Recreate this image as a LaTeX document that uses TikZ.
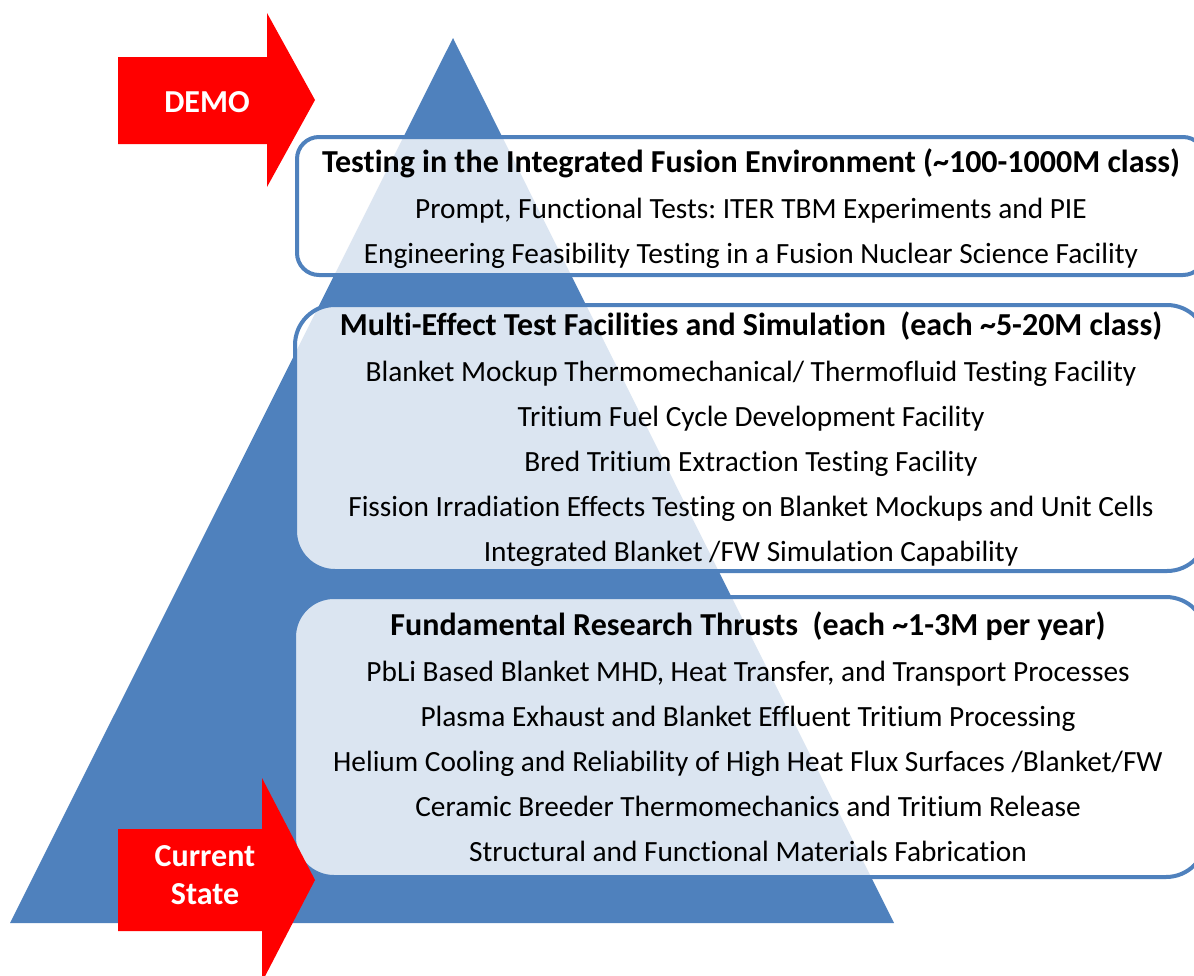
\documentclass[tikz,border=0pt]{standalone}
\usepackage{fontspec}
\setmainfont{Carlito}[Ligatures=NoCommon]
\frenchspacing
\begin{document}
\begin{tikzpicture}[x=1pt,y=-1pt,
  stage/.style={draw=pyrblue, line width=4pt, fill=white, fill opacity=0.8,
    rectangle, inner sep=0pt},
  stagetext/.style={align=center, inner sep=0pt,
    font=\fontsize{29.33}{45}\selectfont},
  arrowlabel/.style={text=white, align=center,
    font=\fontsize{32}{38}\selectfont\bfseries},
  redarrow/.style={fill=arrowred, draw=none}]
\definecolor{pyrblue}{HTML}{4F81BD}
\definecolor{arrowred}{HTML}{FF0000}
\newcommand\stagehead[1]{{\bfseries\fontsize{32}{45}\selectfont #1}}
\useasboundingbox (0,0) rectangle (1194,975);
\clip (0,0) rectangle (1194,975);

% pyramid
\fill[pyrblue] (453,38) -- (894,923) -- (10,923) -- cycle;

% stages of the pyramid
\node[stage, rounded corners=22pt, minimum width=908pt, minimum height=138pt]
  (top) at (751,206) {};
\node[stagetext] (toptext) at (751,209)
  {\stagehead{Testing in the Integrated Fusion Environment (\textasciitilde100-1000M class)}\\[1pt]
   Prompt, Functional Tests: ITER TBM Experiments and PIE\\
   Engineering Feasibility Testing in a Fusion Nuclear Science Facility};

\node[stage, rounded corners=40pt, minimum width=912pt, minimum height=266pt]
  (mid) at (751,438) {};
\node[stagetext] (midtext) at (751,439)
  {\stagehead{Multi-Effect Test Facilities and Simulation\ \ (each \textasciitilde5-20M class)}\\[1pt]
   Blanket Mockup Thermomechanical/ Thermofluid Testing Facility\\
   Tritium Fuel Cycle Development Facility\\
   Bred Tritium Extraction Testing Facility\\
   Fission Irradiation Effects Testing on Blanket Mockups and Unit Cells\\
   Integrated Blanket /FW Simulation Capability};

\node[stage, rounded corners=40pt, minimum width=912pt, minimum height=280pt]
  (base) at (750,737) {};
\node[stagetext] (basetext) at (748,737)
  {\stagehead{Fundamental Research Thrusts\ \ (each \textasciitilde1-3M per year)}\\[1pt]
   PbLi Based Blanket MHD, Heat Transfer, and Transport Processes\\
   Plasma Exhaust and Blanket Effluent Tritium Processing\\
   Helium Cooling and Reliability of High Heat Flux Surfaces /Blanket/FW\\
   Ceramic Breeder Thermomechanics and Tritium Release\\
   Structural and Functional Materials Fabrication};

% red arrows
\fill[redarrow] (118,57) -- (267,57) -- (267,13) -- (315,100) -- (267,187)
  -- (267,144) -- (118,144) -- cycle;
\node[arrowlabel] (demo) at (207,102) {DEMO};

\fill[redarrow] (118,829) -- (262,829) -- (262,778) -- (315,880) -- (262,982)
  -- (262,931) -- (118,931) -- cycle;
\node[arrowlabel] (now) at (205,875) {Current\\State};
\end{tikzpicture}
\end{document}
